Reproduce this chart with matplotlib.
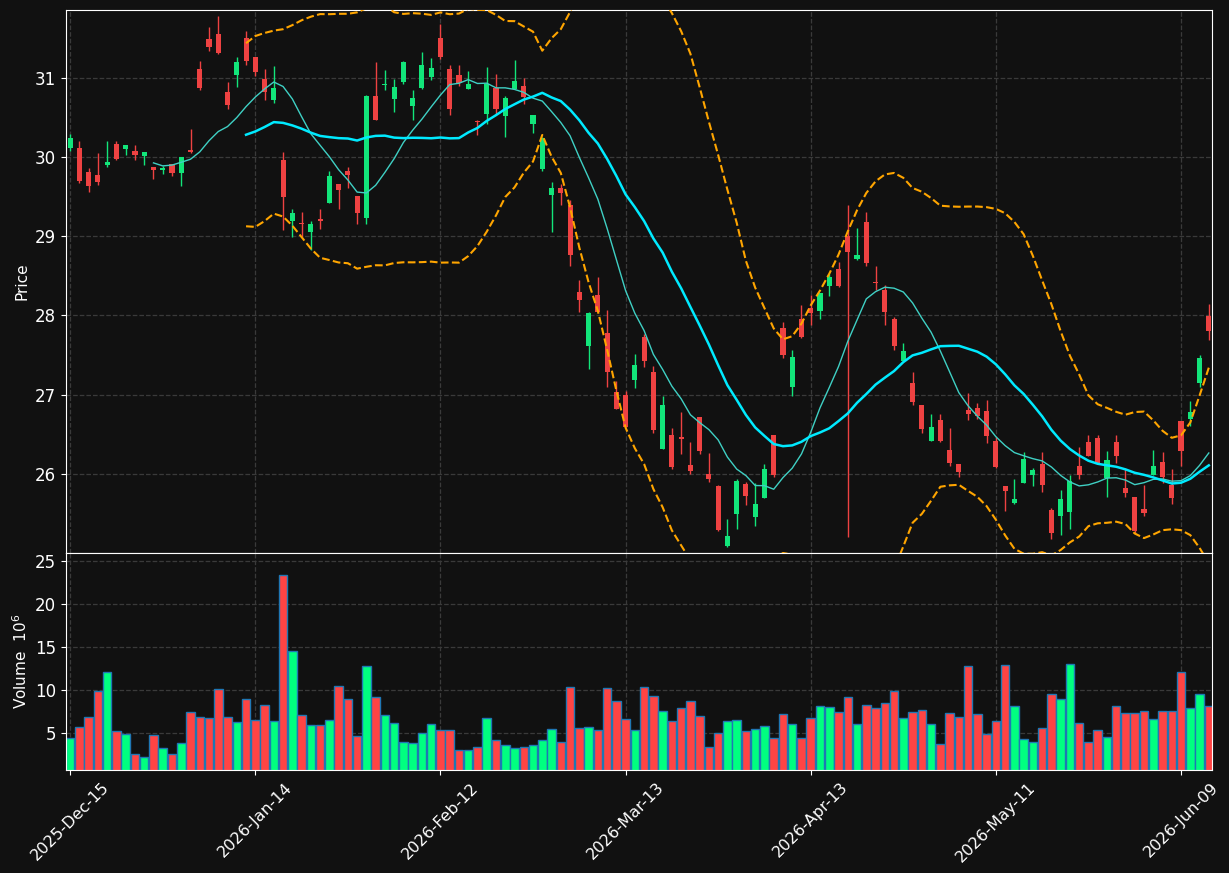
import matplotlib
matplotlib.use("Agg")
import matplotlib.pyplot as plt
import numpy as np
import pandas as pd

# NYSE holidays inside the window
holidays = ["2025-12-25", "2026-01-01", "2026-01-19", "2026-02-16",
            "2026-04-03", "2026-05-25"]
dates = pd.bdate_range("2025-12-15", periods=124, freq="C", holidays=holidays)

opens = [30.12, 30.11, 29.81, 29.78, 29.90, 30.17, 30.10, 30.08, 30.01, 29.88,
         29.84, 29.91, 29.80, 30.08, 31.11, 31.49, 31.55, 30.82, 31.04, 31.50,
         31.26, 30.99, 30.72, 29.96, 29.20, 29.16, 29.05, 29.22, 29.42, 29.66,
         29.82, 29.51, 29.23, 30.77, 30.91, 30.73, 30.95, 30.65, 30.87, 31.01,
         31.51, 31.12, 31.04, 30.86, 30.45, 30.54, 30.87, 30.52, 30.86, 30.90,
         30.42, 29.85, 29.52, 29.61, 29.40, 28.30, 27.61, 28.26, 27.78, 27.03,
         26.99, 27.19, 27.73, 27.28, 26.31, 26.49, 26.46, 26.11, 26.72, 26.00,
         25.84, 25.09, 25.49, 25.87, 25.46, 25.69, 26.49, 27.84, 27.10, 27.95,
         28.09, 28.06, 28.37, 28.59, 29.01, 28.72, 29.18, 28.42, 28.32, 27.95,
         27.42, 27.15, 26.87, 26.41, 26.68, 26.30, 26.13, 26.80, 26.83, 26.79,
         26.41, 25.85, 25.63, 25.88, 25.98, 26.13, 25.54, 25.47, 25.52, 26.10,
         26.40, 26.45, 25.95, 26.40, 25.82, 25.71, 25.55, 25.99, 26.15, 25.86,
         26.67, 26.69, 27.15, 27.99]
highs = [30.29, 30.21, 29.86, 30.05, 30.20, 30.21, 30.16, 30.15, 30.06, 29.88,
         29.89, 29.91, 30.00, 30.35, 31.21, 31.64, 31.78, 30.95, 31.27, 31.60,
         31.26, 31.11, 31.15, 30.07, 29.35, 29.31, 29.20, 29.35, 29.82, 29.66,
         29.88, 29.51, 30.79, 31.20, 31.10, 30.99, 31.21, 30.85, 31.33, 31.25,
         31.68, 31.17, 31.17, 31.09, 30.47, 31.14, 31.05, 30.77, 31.23, 31.00,
         30.53, 30.26, 29.69, 29.66, 29.46, 28.45, 28.05, 28.48, 28.07, 27.17,
         27.05, 27.51, 27.76, 27.36, 26.98, 26.58, 26.78, 26.40, 26.72, 26.26,
         25.86, 25.43, 25.93, 25.90, 25.89, 26.12, 26.49, 27.92, 27.57, 28.13,
         28.26, 28.29, 28.53, 28.68, 29.40, 29.11, 29.31, 28.63, 28.38, 27.98,
         27.65, 27.28, 26.87, 26.76, 26.76, 26.58, 26.13, 27.02, 26.90, 26.93,
         26.46, 25.85, 25.93, 26.27, 26.07, 26.28, 25.57, 25.79, 25.99, 26.34,
         26.49, 26.49, 26.29, 26.49, 26.06, 25.71, 25.86, 26.30, 26.28, 26.06,
         26.67, 26.92, 27.50, 28.15]
lows = [30.08, 29.67, 29.56, 29.65, 29.88, 29.97, 30.03, 29.97, 29.90, 29.72,
        29.79, 29.76, 29.64, 30.05, 30.85, 31.34, 31.30, 30.61, 30.89, 31.17,
        31.03, 30.72, 30.68, 29.08, 28.99, 28.99, 28.83, 29.09, 29.42, 29.35,
        29.61, 29.15, 29.16, 30.47, 30.85, 30.57, 30.93, 30.47, 30.86, 30.97,
        31.24, 30.53, 30.90, 30.86, 30.28, 30.42, 30.55, 30.26, 30.86, 30.67,
        30.30, 29.82, 29.06, 29.40, 28.63, 28.05, 27.32, 28.05, 27.10, 26.82,
        26.59, 27.09, 27.35, 26.52, 26.31, 26.06, 26.25, 26.00, 26.25, 25.90,
        25.28, 25.07, 25.30, 25.61, 25.34, 25.69, 25.96, 27.46, 26.98, 27.71,
        27.88, 27.96, 28.25, 28.36, 25.20, 28.70, 28.62, 28.32, 27.88, 27.56,
        27.42, 26.87, 26.51, 26.41, 26.40, 26.10, 25.96, 26.68, 26.69, 26.39,
        26.07, 25.53, 25.62, 25.88, 25.85, 25.77, 25.18, 25.23, 25.30, 25.93,
        26.23, 26.14, 25.71, 26.14, 25.71, 25.25, 25.47, 25.99, 25.88, 25.62,
        26.10, 26.60, 27.10, 27.69]
closes = [30.24, 29.70, 29.64, 29.69, 29.94, 29.98, 30.16, 30.03, 30.06, 29.84,
          29.86, 29.80, 30.00, 30.07, 30.87, 31.39, 31.32, 30.66, 31.20, 31.22,
          31.07, 30.82, 30.88, 29.50, 29.30, 29.15, 29.16, 29.20, 29.76, 29.58,
          29.77, 29.29, 30.77, 30.47, 30.93, 30.89, 31.20, 30.75, 31.16, 31.13,
          31.26, 30.61, 30.94, 30.93, 30.44, 30.93, 30.61, 30.75, 30.96, 30.76,
          30.53, 30.24, 29.61, 29.55, 28.77, 28.20, 28.03, 28.05, 27.28, 26.82,
          26.59, 27.38, 27.42, 26.55, 26.87, 26.08, 26.44, 26.03, 26.29, 25.93,
          25.29, 25.21, 25.91, 25.72, 25.62, 26.06, 25.99, 27.50, 27.48, 27.73,
          28.03, 28.29, 28.48, 28.37, 28.80, 28.76, 28.66, 28.41, 28.04, 27.61,
          27.55, 26.91, 26.56, 26.59, 26.42, 26.14, 26.02, 26.75, 26.73, 26.48,
          26.09, 25.78, 25.68, 26.19, 26.05, 25.86, 25.25, 25.68, 25.91, 25.98,
          26.23, 26.14, 26.17, 26.23, 25.76, 25.28, 25.50, 26.10, 25.96, 25.70,
          26.29, 26.78, 27.46, 27.80]
# volume in millions
volumes = [4.42, 5.69, 6.85, 9.86, 12.05, 5.23, 4.88, 2.46, 2.11, 4.77,
           3.15, 2.46, 3.84, 7.43, 6.85, 6.73, 10.09, 6.85, 6.27, 8.93,
           6.50, 8.24, 6.39, 23.38, 14.48, 7.08, 5.92, 5.92, 6.50, 10.43,
           8.93, 4.65, 12.75, 9.16, 7.08, 6.16, 3.96, 3.84, 5.00, 6.04,
           5.35, 5.35, 2.92, 3.03, 3.38, 6.73, 4.19, 3.61, 3.15, 3.38,
           3.61, 4.19, 5.46, 3.96, 10.32, 5.58, 5.69, 5.35, 10.20, 8.70,
           6.62, 5.35, 10.32, 9.28, 7.54, 6.39, 7.89, 8.70, 6.97, 3.38,
           5.00, 6.39, 6.50, 5.23, 5.46, 5.81, 4.42, 7.20, 6.04, 4.42,
           6.73, 8.12, 8.00, 7.43, 9.16, 6.04, 8.24, 7.89, 8.47, 9.86,
           6.73, 7.43, 7.66, 6.04, 3.73, 7.31, 6.85, 12.75, 7.20, 4.88,
           6.39, 12.86, 8.12, 4.31, 3.96, 5.58, 9.51, 8.93, 12.98, 6.16,
           3.96, 5.35, 4.54, 8.12, 7.31, 7.31, 7.54, 6.62, 7.54, 7.54,
           12.05, 7.89, 9.51, 8.12]

df = pd.DataFrame({"Open": opens, "High": highs, "Low": lows,
                   "Close": closes, "Volume": volumes}, index=dates)
ma10 = df["Close"].rolling(10).mean()
ma20 = df["Close"].rolling(20).mean()
std20 = df["Close"].rolling(20).std(ddof=0)
upper = ma20 + 2 * std20
lower = ma20 - 2 * std20

bg = "#111111"
up_c, down_c = "#12e57a", "#ee4242"
vol_up, vol_down = "#00ff80", "#ff4444"

x = np.arange(len(df))
is_up = df["Close"].values >= df["Open"].values

fig = plt.figure(figsize=(12.29, 8.73), dpi=100, facecolor=bg)
ax = fig.add_axes([0.0537, 0.3666, 0.9325, 0.622])
axv = fig.add_axes([0.0537, 0.118, 0.9325, 0.2486], sharex=ax)

for a in (ax, axv):
    a.set_facecolor(bg)
    for s in a.spines.values():
        s.set_color("white")
    a.tick_params(colors="white", labelsize=12)
    a.grid(True, linestyle="--", color="#3a3a3a", linewidth=0.9)
    a.set_axisbelow(True)

# candles
colors = np.where(is_up, up_c, down_c)
ax.vlines(x, df["Low"], df["High"], colors=colors, linewidth=1, zorder=2)
body_lo = np.minimum(df["Open"], df["Close"])
body_h = np.maximum(np.abs(df["Close"] - df["Open"]), 0.015)
ax.bar(x, body_h, bottom=body_lo, width=0.55, color=colors, zorder=3)

ax.plot(x, ma10, color="#3fd0c4", linewidth=1.0, zorder=4)
ax.plot(x, ma20, color="#00eaff", linewidth=1.8, zorder=4)
ax.plot(x, upper, color="orange", linestyle="--", linewidth=1.5, zorder=4)
ax.plot(x, lower, color="orange", linestyle="--", linewidth=1.5, zorder=4)

ax.set_ylim(25.0, 31.86)
ax.set_yticks([26, 27, 28, 29, 30, 31])
ax.set_ylabel("Price", color="white", fontsize=11)
ax.tick_params(axis="x", labelbottom=False, length=0)

# volume
vcolors = np.where(is_up, vol_up, vol_down)
axv.bar(x, df["Volume"], width=0.92, color=vcolors, edgecolor="#1f77b4",
        linewidth=1.0)
axv.set_ylim(0.65, 25.9)
axv.set_yticks([5, 10, 15, 20, 25])
axv.set_ylabel("Volume  $10^6$", color="white", fontsize=11)

ax.set_xlim(-0.45, 123.35)
tick_pos = list(range(0, len(df), 20))
axv.set_xticks(tick_pos)
axv.set_xticklabels([dates[i].strftime("%Y-%b-%d") for i in tick_pos],
                    rotation=45, fontsize=11.5)

fig.savefig("out.png", dpi=100, facecolor=bg)
